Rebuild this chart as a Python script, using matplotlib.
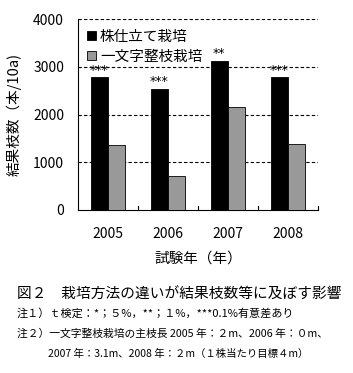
import matplotlib
matplotlib.use("Agg")
import matplotlib.pyplot as plt
import numpy as np

plt.rcParams['font.family'] = ['Noto Sans CJK JP', 'DejaVu Sans']

years = ['2005', '2006', '2007', '2008']
kabu = [2785, 2541, 3127, 2785]          # 株仕立て栽培
ichimonji = [1361, 712, 2157, 1382]      # 一文字整枝栽培
signif = ['***', '***', '**', '***']
yticks = [0, 1000, 2000, 3000, 4000]

fig = plt.figure(figsize=(3.53, 3.73), dpi=100)
ax = fig.add_axes([0.221, 0.437, 0.68, 0.512])

x = np.arange(len(years))
w = 0.29
ax.bar(x - w/2, kabu, w, color='black', edgecolor='black', linewidth=0.6, label='株仕立て栽培', zorder=3)
ax.bar(x + w/2, ichimonji, w, color='#999999', edgecolor='black', linewidth=0.6, label='一文字整枝栽培', zorder=3)

for xi, v, s in zip(x, kabu, signif):
    ax.text(xi - w/2, v + 10, s, ha='center', va='bottom', fontsize=9, family='DejaVu Sans', zorder=4)

ax.set_xlim(-0.5, 3.5)
ax.set_ylim(0, 4000)
ax.set_yticks(yticks)
ax.set_yticklabels([str(t) for t in yticks], fontsize=10)
ax.tick_params(axis='y', length=0, pad=10)
ax.set_xticks(x)
ax.set_xticklabels(years, fontsize=10)
ax.tick_params(axis='x', length=0, pad=12)
for b in [0.5, 1.5, 2.5, 3.5]:
    ax.plot([b, b], [0, 80], color='black', lw=0.8, clip_on=False, zorder=5)

for t in [1000, 2000, 3000, 4000]:
    ax.axhline(t, color='black', lw=0.8, linestyle=(0, (3, 2)), zorder=1)

ax.spines['top'].set_visible(False)
ax.spines['right'].set_visible(False)
ax.spines['left'].set_linewidth(0.8)
ax.spines['bottom'].set_linewidth(0.8)

ax.set_ylabel('結果枝数（本/10a)', fontsize=10.5, labelpad=8)
ax.set_xlabel('試験年（年）', fontsize=10.5, labelpad=8)

leg = ax.legend(loc='upper left', frameon=False, fontsize=10.5, handlelength=0.6, handleheight=0.6,
                handletextpad=0.3, labelspacing=0.4, borderaxespad=0.2, bbox_to_anchor=(0.0, 0.99))

fig.text(0.048, 1 - 295/373, '図２　栽培方法の違いが結果枝数等に及ぼす影響', fontsize=10.6, va='center', ha='left')
fig.text(0.048, 1 - 313/373, '注１）ｔ検定：*；５%，**；１%，***0.1%有意差あり', fontsize=8.0, va='center', ha='left')
fig.text(0.048, 1 - 334/373, '注２）一文字整枝栽培の主枝長 2005 年：２m、2006 年：０m、', fontsize=7.75, va='center', ha='left')
fig.text(0.136, 1 - 354/373, '2007 年：3.1m、2008 年：２m（１株当たり目標４m）', fontsize=7.5, va='center', ha='left')

fig.savefig('out.png', dpi=100)
